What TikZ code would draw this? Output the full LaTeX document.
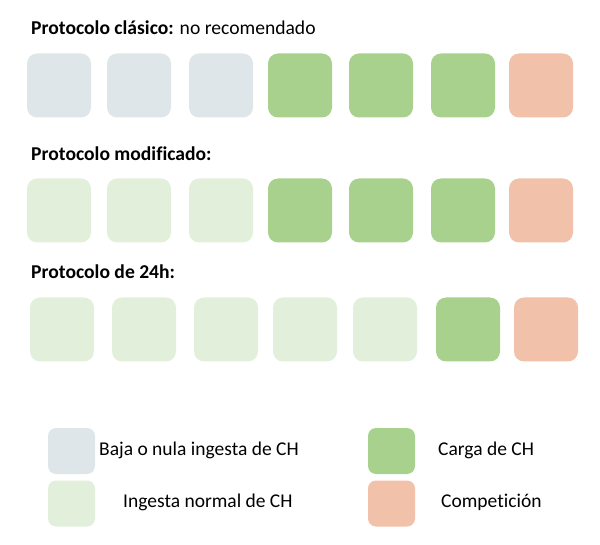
\documentclass[tikz,border=0pt]{standalone}
\usepackage{fontspec}
\setmainfont[Ligatures=NoCommon]{Carlito}
\usepackage{xcolor}

\begin{document}
\begin{tikzpicture}[x=1pt,y=-1pt,
  dia/.style={rounded corners=10pt,minimum width=64pt,minimum height=64pt,inner sep=0pt},
  cuadro/.style={rounded corners=8pt,minimum width=47pt,minimum height=46pt,inner sep=0pt},
  titulo/.style={anchor=base west,inner sep=0pt,font=\fontsize{19.6}{22}\selectfont},
  texto/.style={anchor=base west,inner sep=0pt,font=\fontsize{19.5}{22}\selectfont}]
\definecolor{baja}{HTML}{DEE6EA}
\definecolor{normal}{HTML}{E2EFDA}
\definecolor{carga}{HTML}{A9D18E}
\definecolor{comp}{HTML}{F1C2A9}
\useasboundingbox (0,0) rectangle (600,545);
% protocolo clasico
\node[titulo] (tclasico) at (31,35) {\textbf{Protocolo clásico:} no recomendado};
  \foreach \crlr/\pos [count=\i] in {baja/59,baja/139,baja/221,carga/300,carga/381,carga/463,comp/541}
  {  \node [dia,fill=\crlr] (c\i) at (\pos,85.5) {};}
% protocolo modificado
\node[titulo] (tmodificado) at (31,161) {\textbf{Protocolo modificado:}};
  \foreach \crlr/\pos [count=\i] in {normal/59,normal/139,normal/221,carga/300,carga/381,carga/463,comp/541}
  {  \node [dia,fill=\crlr] (m\i) at (\pos,210.5) {};}
% protocolo de 24h
\node[titulo] (t24h) at (31,279) {\textbf{Protocolo de 24h:}};
  \foreach \crlr/\pos [count=\i] in {normal/62,normal/144,normal/226,normal/305,normal/385,carga/468,comp/546}
  {  \node [dia,fill=\crlr] (h\i) at (\pos,329.5) {};}
% leyenda
\node[cuadro,fill=baja] (lbaja) at (71.5,451) {};
\node[cuadro,fill=normal] (lnormal) at (71.5,503.5) {};
\node[cuadro,fill=carga] (lcarga) at (391.5,451) {};
\node[cuadro,fill=comp] (lcomp) at (391.5,503.5) {};
\node[texto] (xbaja) at (99,455) {Baja o nula ingesta de CH};
\node[texto] (xnormal) at (123,507) {Ingesta normal de CH};
\node[texto] (xcarga) at (438,455) {Carga de CH};
\node[texto] (xcomp) at (441,507) {Competición};
\end{tikzpicture}
\end{document}
